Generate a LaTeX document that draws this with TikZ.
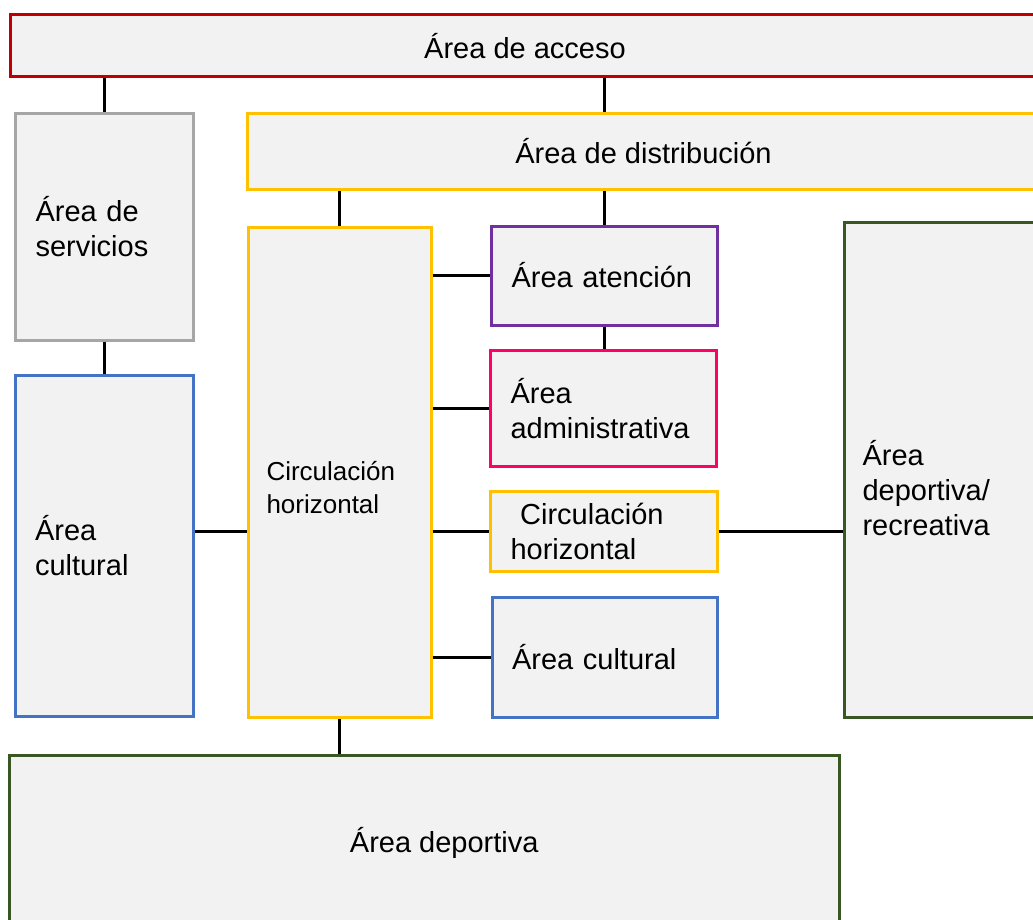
\documentclass[tikz,border=0pt]{standalone}
\usepackage{fontspec}
\setmainfont{Liberation Sans}

\definecolor{accesored}{HTML}{C00000}
\definecolor{servgray}{HTML}{A6A6A6}
\definecolor{circyellow}{HTML}{FFC000}
\definecolor{atenpurple}{HTML}{7030A0}
\definecolor{adminpink}{HTML}{FF0066}
\definecolor{cultblue}{HTML}{4472C4}
\definecolor{depgreen}{HTML}{385723}
\definecolor{boxfill}{HTML}{F2F2F2}

\tikzset{
  area/.style={draw, line width=1.5pt, fill=boxfill, inner xsep=10pt, inner ysep=0pt,
    align=center, font=\fontsize{14.5}{17.5}\selectfont},
  padded/.style={align=left, text width=#1},
  arealbl/.style={anchor=west, inner sep=0pt, outer sep=0pt, align=left, xshift=10pt,
    font=\fontsize{14.5}{17.5}\selectfont},
  link/.style={draw, line width=1.5pt}
}

\begin{document}
\begin{tikzpicture}[x=0.5pt, y=-0.5pt]
     \useasboundingbox (0,0) rectangle (1033,920);

     % top bars
     \node[area, draw=accesored, minimum width=515pt, minimum height=31pt]
          (acceso) at (525,46) {Área de acceso};
     \node[area, draw=circyellow, minimum width=396.5pt, minimum height=38pt]
          (distrib) at (643.5,151.5) {Área de distribución};

     % left column
     \node[area, draw=servgray, padded=69pt, minimum height=113.25pt]
          (servicios) at (104.5,226.75) {Área de\\servicios};
     \node[area, draw=cultblue, padded=69.25pt, minimum height=170.75pt]
          (cultural) at (104.25,545.75) {Área\\cultural};

     % main circulation
     \node[area, draw=circyellow, minimum width=91.5pt, minimum height=245pt,
          label={[arealbl, yshift=-8pt, font=\fontsize{13}{16.5}\selectfont]west:Circulación\\horizontal}]
          (circ) at (339.5,472) {};

     % right column
     \node[area, draw=atenpurple, padded=92.75pt, minimum height=49.5pt]
          (atencion) at (604.25,275.5) {Área atención};
     \node[area, draw=adminpink, padded=93pt, minimum height=57.75pt]
          (admin) at (603.5,408.25) {Área\\administrativa};
     \node[area, draw=circyellow, padded=93.25pt, minimum height=40pt]
          (circ2) at (603.75,531) {\ Circulación\\horizontal};
     \node[area, draw=cultblue, padded=92.5pt, minimum height=60.25pt]
          (cultural2) at (604.5,657.25) {Área cultural};

     % sports
     \node[area, draw=depgreen, minimum width=100.5pt, minimum height=247.75pt,
          label={[arealbl, yshift=-9pt]west:Área\\deportiva/\\recreativa}]
          (recreativa) at (944.5,469.75) {};
     \node[area, draw=depgreen, minimum width=414.75pt, minimum height=87.25pt,
          label={[arealbl, anchor=center]center:Área deportiva}]
          (deportiva) at (424.25,842.75) {};

     % links
     \draw[link] (servicios.north |- acceso.south) -- (servicios.north);
     \draw[link] (atencion.north |- acceso.south) -- (atencion.north |- distrib.north);
     \draw[link] (circ.north |- distrib.south) -- (circ.north);
     \draw[link] (atencion.north |- distrib.south) -- (atencion.north);
     \draw[link] (atencion.south) -- (atencion.south |- admin.north);
     \draw[link] (servicios.south) -- (servicios.south |- cultural.north);

     \draw[link] (circ.east |- atencion.west) -- (atencion.west);
     \draw[link] (circ.east |- admin.west) -- (admin.west);
     \draw[link] (circ.east |- circ2.west) -- (circ2.west);
     \draw[link] (circ.east |- cultural2.west) -- (cultural2.west);
     \draw[link] (cultural.east |- circ2.west) -- (circ.west |- circ2.west);
     \draw[link] (circ2.east) -- (circ2.east -| recreativa.west);
     \draw[link] (circ.south) -- (circ.south |- deportiva.north);

\end{tikzpicture}
\end{document}
